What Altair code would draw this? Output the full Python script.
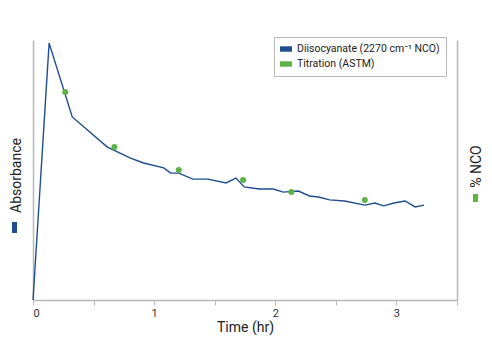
import altair as alt
import pandas as pd

# Absorbance trace (Diisocyanate, 2270 cm-1 NCO band), arbitrary units 0-100
time_hr = [0, 0.133, 0.324, 0.614, 0.805, 0.913, 1.079, 1.137, 1.203, 1.320,
           1.444, 1.593, 1.676, 1.743, 1.867, 1.983, 2.066, 2.191, 2.282, 2.357,
           2.448, 2.573, 2.739, 2.822, 2.896, 2.979, 3.071, 3.154, 3.228]
absorbance = [0, 98.8, 70.4, 58.8, 54.6, 52.7, 50.8, 48.8, 48.8, 46.5,
              46.5, 45.0, 46.9, 43.5, 42.7, 42.7, 41.5, 41.9, 40.0, 39.6,
              38.5, 38.1, 36.5, 37.3, 36.2, 37.3, 38.1, 35.8, 36.5]

# Titration (ASTM) %NCO points (scaled to the same visual range)
titration_time = [0.266, 0.672, 1.203, 1.734, 2.133, 2.739]
titration_nco = [80.0, 58.8, 50.0, 46.2, 41.5, 38.5]

series = ["Diisocyanate (2270 cm⁻¹ NCO)", "Titration (ASTM)"]
colors = ["#1f4e8f", "#5cb447"]
x_ticks = [0, 0.5, 1, 1.5, 2, 2.5, 3, 3.5]

FONT = "Roboto"
GRAY = "#b8b8b8"

df_line = pd.DataFrame({"time": time_hr, "absorbance": absorbance})
df_pts = pd.DataFrame({"time": titration_time, "nco": titration_nco,
                       "series": [series[1]] * len(titration_time)})
df_one = pd.DataFrame({"a": [0]})

x_enc = alt.X(
    "time:Q",
    scale=alt.Scale(domain=[0, 3.5], nice=False),
    axis=alt.Axis(
        values=x_ticks, title="Time (hr)", grid=False,
        labelExpr="datum.value % 1 == 0 ? format(datum.value, 'd') : ''",
        domainColor=GRAY, domainWidth=1.5, tickColor=GRAY, tickSize=5,
        labelFontSize=11, labelColor="#333", labelFont=FONT, labelPadding=2,
        titleFontSize=14, titleFontWeight="normal", titleColor="#222",
        titleFont=FONT, titlePadding=2,
    ),
)

line = alt.Chart(df_line).mark_line(color=colors[0], strokeWidth=1.4).encode(
    x=x_enc,
    y=alt.Y(
        "absorbance:Q",
        scale=alt.Scale(domain=[0, 100], nice=False),
        axis=alt.Axis(
            orient="left", title="Absorbance", ticks=False, labels=False,
            grid=False, domainColor=GRAY, domainWidth=1.5,
            titleFontSize=14, titleFontWeight="normal", titleColor="#222",
            titleFont=FONT, titleAngle=270, titleX=-17, titleY=135,
            titleAlign="center", titleBaseline="middle",
        ),
    ),
)

pts = alt.Chart(df_pts).mark_circle(size=36, opacity=1).encode(
    x=x_enc,
    y=alt.Y(
        "nco:Q",
        scale=alt.Scale(domain=[0, 100], nice=False),
        axis=alt.Axis(
            orient="right", title="% NCO", ticks=False, labels=False,
            grid=False, domainColor=GRAY, domainWidth=1.5,
            titleFontSize=14, titleFontWeight="normal", titleColor="#222",
            titleFont=FONT, titleAngle=270, titleX=19, titleY=126,
            titleAlign="center", titleBaseline="middle",
        ),
    ),
    fill=alt.Fill(
        "series:N",
        scale=alt.Scale(domain=series, range=colors),
        legend=alt.Legend(
            title=None, orient="none", legendX=241, legendY=-3,
            symbolType="M-1,-0.45H1V0.45H-1Z", symbolSize=144,
            symbolOpacity=1, symbolStrokeWidth=0,
            strokeColor=GRAY, fillColor="white", padding=6,
            labelFontSize=10.5, labelFont=FONT, labelColor="#222",
            rowPadding=3, labelOffset=5, labelLimit=300,
        ),
    ),
)

blue_box = alt.Chart(df_one).mark_rect(color=colors[0]).encode(
    x=alt.value(-21), x2=alt.value(-16), y=alt.value(182), y2=alt.value(193)
)
green_box = alt.Chart(df_one).mark_rect(color=colors[1]).encode(
    x=alt.value(440), x2=alt.value(445), y=alt.value(154), y2=alt.value(162)
)

chart = (
    alt.layer(line, pts, blue_box, green_box)
    .resolve_scale(y="independent")
    .properties(
        width=424, height=260, autosize="none",
        padding={"left": 25, "top": 32, "right": 25, "bottom": 45},
        background="white",
    )
    .configure_view(stroke=None)
)

chart.save("out.html", embed_options={"renderer": "svg", "actions": False})
